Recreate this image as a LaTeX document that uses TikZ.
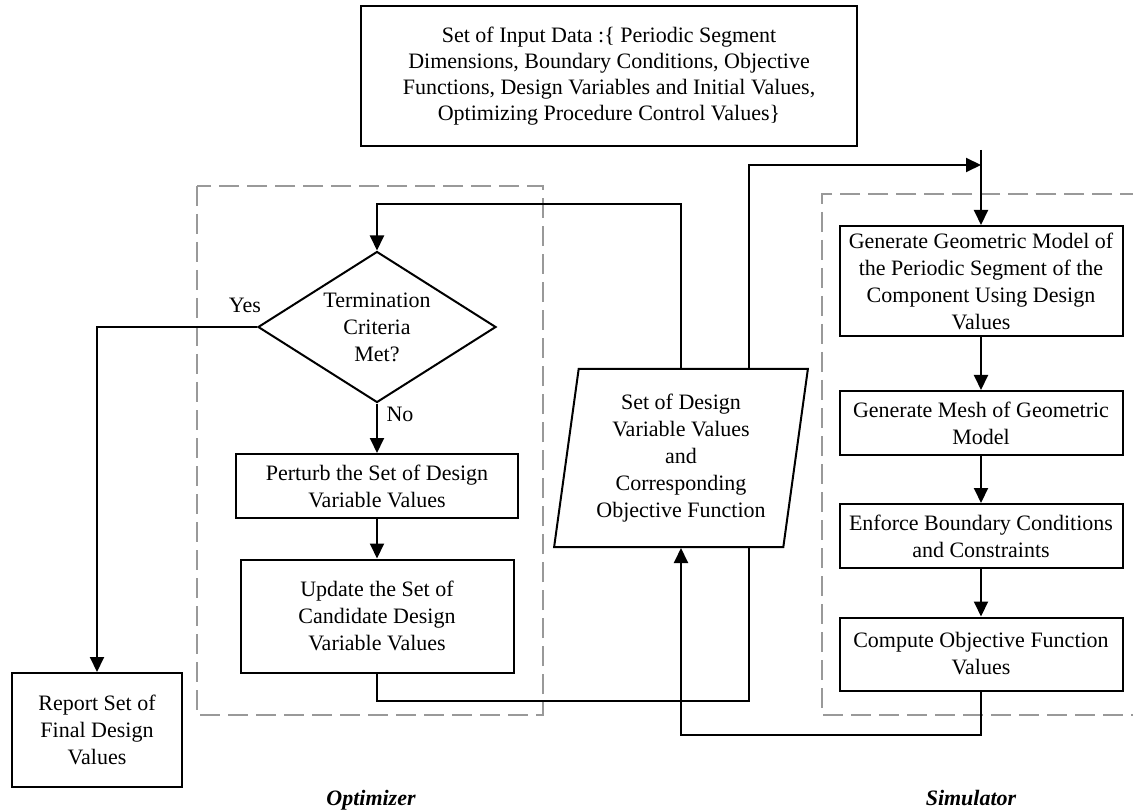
\documentclass[tikz,border=0pt]{standalone}
\usepackage{fontspec}
\setmainfont{Liberation Serif}
\usetikzlibrary{arrows.meta, shapes.geometric}

\begin{document}
\begin{tikzpicture}[
            x=1pt, y=-1pt,
            box/.style={draw, line width=2pt, align=center, inner sep=0pt,
                        font=\fontsize{22}{27}\selectfont},
            dec/.style={box, diamond, aspect=1.58},
            io/.style={box, trapezium, trapezium left angle=81,
                       trapezium right angle=99, trapezium stretches=true},
            arr/.style={-{Triangle[length=15pt, width=14pt]}, line width=2pt},
            lnk/.style={line width=2pt},
            grp/.style={draw=black!40, line width=2.8pt, dash pattern=on 20pt off 8pt},
            lbl/.style={font=\fontsize{22}{27}\selectfont},
            ttl/.style={font=\fontsize{22}{27}\selectfont\bfseries\itshape, anchor=base}
        ]
        \useasboundingbox (0,0) rectangle (1133,810);

        % group frames
        \draw[grp] (197,186) rectangle (543,715);
        \draw[grp] (1140,194) -- (822,194) -- (822,715) -- (1140,715);

        % input data
        \node[box, minimum width=496pt, minimum height=140pt,
              font=\fontsize{22}{26}\selectfont] (input) at (609,76)
            {Set of Input Data :\{ Periodic Segment\\ Dimensions, Boundary Conditions, Objective\\
             Functions, Design Variables and Initial Values,\\ Optimizing Procedure Control Values\}};

        % Optimizer
        \node[dec, minimum width=238pt, minimum height=151pt] (term) at (377,327)
            {Termination\\ Criteria\\ Met?};
        \node[box, minimum width=282pt, minimum height=64pt] (perturb) at (377,486)
            {Perturb the Set of Design\\ Variable Values};
        \node[box, minimum width=273pt, minimum height=113pt] (update) at (377,616)
            {Update the Set of\\ Candidate Design\\ Variable Values};
        \node[box, minimum width=170pt, minimum height=114pt] (report) at (97,730)
            {Report Set of\\ Final Design\\ Values};

        % design values handed between the two
        \node[io, minimum width=254pt, minimum height=178pt] (setdv) at (681,458)
            {Set of Design\\ Variable Values\\ and\\ Corresponding\\ Objective Function};

        % Simulator
        \node[box, minimum width=283pt, minimum height=110pt] (gen) at (981,281)
            {Generate Geometric Model of\\ the Periodic Segment of the\\ Component Using Design\\ Values};
        \node[box, minimum width=283pt, minimum height=64pt] (mesh) at (981,423)
            {Generate Mesh of Geometric\\ Model};
        \node[box, minimum width=283pt, minimum height=64pt] (enforce) at (981,536)
            {Enforce Boundary Conditions\\ and Constraints};
        \node[box, minimum width=283pt, minimum height=73pt] (compute) at (981,654)
            {Compute Objective Function\\ Values};

        \coordinate (feed) at (981,150);
        \coordinate (join) at (981,165);
        \coordinate (loop) at (377,204);
        \coordinate (upd) at (749,701);
        \coordinate (retn) at (681,735);

        % simulator chain
        \draw[arr] (feed) -- (gen);
        \draw[arr] (gen) -- (mesh);
        \draw[arr] (mesh) -- (enforce);
        \draw[arr] (enforce) -- (compute);
        \draw[arr] (compute) |- (retn) -- (setdv);
        \draw[arr] (setdv.north -| upd) |- (join);

        % optimizer chain
        \draw[arr] (setdv) |- (loop) -- (term);
        \draw[arr] (term) -| (report);
        \draw[arr] (term) -- (perturb);
        \draw[arr] (perturb) -- (update);
        \draw[lnk] (update) |- (upd) -- (upd |- setdv.south);

        \node[lbl] (yes) at (245,305) {Yes};
        \node[lbl] (no) at (400,414) {No};

        \node[ttl] (opt) at (371,805) {Optimizer};
        \node[ttl] (sim) at (971,805) {Simulator};
        \end{tikzpicture}
\end{document}
